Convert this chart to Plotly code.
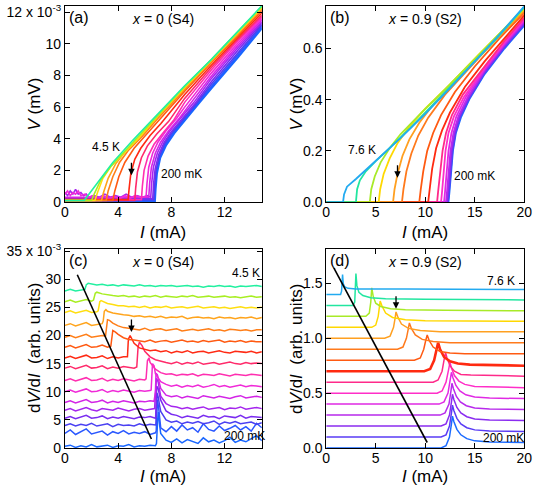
import plotly.graph_objects as go

# ---------------- data ----------------
# panel (a): x = 0 (S4), V (1e-3 mV) vs I (mA), 200 mK first ... 4.5 K last
a_curves = [
    [(0, 0.05), (6.75, 0.05), (6.8, 0.8), (6.9, 1.8), (7.15, 2.8), (7.6, 3.6), (8.2, 4.35), (9.1, 5.3), (10.1, 6.3), (11, 7.2), (13, 9.15), (14.8, 11.0)],
    [(0, 0.1), (6.72, 0.1), (6.78, 1.0), (6.88, 2.0), (7.12, 2.85), (7.55, 3.65), (8.15, 4.4), (9, 5.3), (10, 6.3), (11, 7.3), (13, 9.3), (14.8, 11.1)],
    [(0, 0.15), (6.68, 0.15), (6.74, 1.0), (6.85, 2.0), (7.1, 2.9), (7.5, 3.7), (8.1, 4.45), (8.9, 5.25), (9.9, 6.25), (11, 7.45), (13, 9.45), (14.8, 11.2)],
    [(0, 0.2), (6.6, 0.2), (6.66, 1.1), (6.78, 2.1), (7.05, 3.0), (7.45, 3.75), (8.0, 4.45), (8.8, 5.25), (9.8, 6.25), (11, 7.6), (13, 9.6), (14.8, 11.3)],
    [(0, 0.6), (0.2, 0.4), (0.4, 0.7), (0.6, 0.5), (0.8, 0.8), (1.0, 0.5), (1.2, 0.6), (1.4, 0.4), (1.6, 0.5), (1.8, 0.3),
     (2.2, 0.4), (2.6, 0.3), (3.0, 0.5), (3.4, 0.3), (3.8, 0.4), (4.2, 0.3), (4.6, 0.5), (5.0, 0.3), (5.4, 0.4), (5.8, 0.3),
     (6.2, 0.4), (6.45, 0.3), (6.52, 1.2), (6.65, 2.2), (6.95, 3.1), (7.35, 3.8), (7.9, 4.5), (8.7, 5.3), (9.7, 6.3), (11, 7.8), (13, 9.75), (14.8, 11.4)],
    [(0, 0.3), (6.3, 0.3), (6.37, 1.2), (6.5, 2.2), (6.8, 3.1), (7.2, 3.8), (7.8, 4.5), (8.6, 5.3), (9.5, 6.3), (11, 7.95), (13, 9.9), (14.8, 11.5)],
    [(0, 0.5), (0.2, 0.7), (0.4, 0.4), (0.6, 0.6), (0.8, 0.5), (1.0, 0.7), (1.2, 0.4), (1.5, 0.5), (1.8, 0.3), (2.1, 0.4),
     (2.5, 0.2), (2.9, 0.4), (3.3, 0.2), (3.7, 0.35), (4.1, 0.2), (4.5, 0.4), (4.9, 0.25), (5.3, 0.4), (5.7, 0.3), (6.1, 0.35),
     (6.17, 1.2), (6.3, 2.2), (6.6, 3.1), (7.0, 3.8), (7.6, 4.5), (8.4, 5.3), (9, 6.0), (11, 8.15), (13, 10.05), (14.8, 11.6)],
    [(0, 0.15), (5.75, 0.15), (5.82, 1.0), (5.95, 2.0), (6.25, 2.9), (6.7, 3.65), (7.4, 4.4), (8.2, 5.2), (9, 6.3), (11, 8.35), (13, 10.2), (14.8, 11.7)],
    [(0, 0.1), (5.25, 0.1), (5.32, 0.9), (5.45, 1.9), (5.75, 2.8), (6.2, 3.55), (6.9, 4.3), (7.8, 5.1), (9, 6.55), (11, 8.5), (13, 10.3), (14.8, 11.8)],
    [(0, 0.15), (4.75, 0.15), (4.82, 0.8), (4.95, 1.8), (5.25, 2.7), (5.7, 3.4), (6.4, 4.2), (7.2, 4.95), (9, 6.8), (11, 8.65), (13, 10.4), (14.8, 11.95)],
    [(0, 0.1), (3.6, 0.1), (3.75, 0.7), (4.05, 1.6), (4.5, 2.5), (5.2, 3.4), (6.1, 4.25), (7, 5.1), (9, 7.0), (11, 8.8), (13, 10.5), (14.8, 12.1)],
    [(0, 0.1), (3.1, 0.1), (3.25, 0.7), (3.6, 1.6), (4.1, 2.5), (4.8, 3.3), (5.8, 4.15), (7, 5.3), (9, 7.1), (11, 8.85), (13, 10.6), (14.8, 12.2)],
    [(0, 0.1), (2.75, 0.1), (2.9, 0.6), (3.25, 1.5), (3.8, 2.4), (4.6, 3.25), (5.6, 4.05), (7, 5.4), (9, 7.2), (11, 8.9), (13, 10.65), (14.8, 12.25)],
    [(0, 0.1), (2.25, 0.1), (2.45, 0.6), (2.85, 1.5), (3.5, 2.3), (4.5, 3.15), (5.5, 4.0), (7, 5.45), (9, 7.25), (11, 8.95), (13, 10.7), (14.8, 12.3)],
    [(0, 0.1), (2.0, 0.1), (2.25, 0.6), (2.7, 1.4), (3.5, 2.3), (4.5, 3.2), (5.5, 4.1), (7, 5.5), (9, 7.3), (11, 9.0), (13, 10.75), (14.8, 12.35)],
    [(0, 0.1), (1.45, 0.1), (1.9, 0.6), (2.6, 1.4), (3.6, 2.5), (5.1, 3.9), (7, 5.6), (9, 7.35), (11, 9.0), (13, 10.8), (14.8, 12.4)],
]

# panel (b): x = 0.9 (S2), V (mV) vs I (mA), 200 mK first ... 7.6 K last
b_curves = [
    [(0, 0), (12.35, 0), (12.45, 0.04), (12.6, 0.12), (12.8, 0.2), (13.1, 0.27), (13.6, 0.33), (14.5, 0.405), (16, 0.5), (18, 0.6), (20, 0.69)],
    [(0, 0), (12.3, 0), (12.4, 0.04), (12.55, 0.12), (12.75, 0.2), (13.05, 0.27), (13.55, 0.335), (14.5, 0.41), (16, 0.505), (18, 0.605), (20, 0.695)],
    [(0, 0), (12.2, 0), (12.3, 0.04), (12.45, 0.12), (12.65, 0.2), (12.95, 0.27), (13.45, 0.335), (14.4, 0.41), (16, 0.51), (18, 0.61), (20, 0.7)],
    [(0, 0), (12.1, 0), (12.2, 0.04), (12.35, 0.12), (12.55, 0.2), (12.85, 0.27), (13.35, 0.335), (14.3, 0.41), (16, 0.515), (18, 0.615), (20, 0.705)],
    [(0, 0), (11.9, 0), (12.0, 0.04), (12.15, 0.12), (12.35, 0.2), (12.65, 0.27), (13.15, 0.335), (14.1, 0.41), (16, 0.52), (18, 0.62), (20, 0.71)],
    [(0, 0), (11.6, 0), (11.7, 0.04), (11.85, 0.12), (12.05, 0.2), (12.35, 0.27), (12.9, 0.335), (13.9, 0.41), (16, 0.525), (18, 0.625), (20, 0.715)],
    [(0, 0), (11.2, 0), (11.3, 0.04), (11.5, 0.12), (11.75, 0.2), (12.1, 0.27), (12.7, 0.34), (13.8, 0.42), (16, 0.53), (18, 0.63), (20, 0.72)],
    [(0, 0), (10.3, 0), (10.45, 0.05), (10.7, 0.13), (11.1, 0.21), (11.7, 0.28), (12.5, 0.35), (14, 0.45), (16, 0.55), (18, 0.64), (20, 0.73)],
    [(0, 0), (9.4, 0), (9.55, 0.05), (9.8, 0.12), (10.2, 0.2), (10.8, 0.27), (11.6, 0.34), (13, 0.43), (15, 0.53), (17.5, 0.64), (20, 0.74)],
    [(0, 0), (7.65, 0), (7.8, 0.05), (8.1, 0.12), (8.6, 0.19), (9.3, 0.26), (10.3, 0.33), (12, 0.42), (14.5, 0.525), (17, 0.63), (20, 0.745)],
    [(0, 0), (6.75, 0), (6.9, 0.05), (7.2, 0.11), (7.7, 0.18), (8.4, 0.245), (9.4, 0.31), (11, 0.39), (13.5, 0.49), (16.5, 0.61), (20, 0.75)],
    [(0, 0), (5.3, 0), (5.45, 0.05), (5.8, 0.11), (6.4, 0.17), (7.2, 0.23), (8.3, 0.29), (10, 0.365), (12.5, 0.46), (15.5, 0.58), (20, 0.755)],
    [(0, 0), (4.4, 0), (4.55, 0.05), (4.9, 0.1), (5.5, 0.155), (6.4, 0.21), (7.5, 0.265), (9.5, 0.345), (12, 0.44), (15, 0.56), (20, 0.758)],
    [(0, 0), (3.0, 0), (3.12, 0.05), (3.4, 0.085), (4.0, 0.12), (5.0, 0.16), (6.5, 0.215), (8.5, 0.29), (11, 0.39), (14, 0.51), (17, 0.63), (20, 0.762)],
    [(0, 0), (1.7, 0), (1.8, 0.03), (2.1, 0.06), (3, 0.09), (5, 0.16), (7.5, 0.25), (10, 0.345), (12.5, 0.445), (15, 0.55), (17.5, 0.655), (20, 0.765)],
]

# panel (c): x = 0 (S4), dV/dI (offset, 1e-3) on a common current grid + step points
c_grid = [0.0, 0.4, 0.8, 1.2, 1.6, 2.0, 2.4, 2.8, 3.2, 3.6, 4.0, 4.4, 4.8, 5.2, 5.6, 6.0, 6.4, 6.8, 7.2,
          7.6, 8.0, 8.4, 8.8, 9.2, 9.6, 10.0, 10.4, 10.8, 11.2, 11.6, 12.0, 12.4, 12.8, 13.2, 13.6, 14.0, 14.4, 14.8]
c_vals = [
    [0.3, 0.5, 0.1, 0.4, 0.2, 0.6, 0.2, 0.3, 0.5, 0.1, 0.4, 0.3, 0.6, 0.2, 0.4, 0.3, 0.5, 0.4,
     2.6, 1.4, 1.0, 1.6, 0.9, 1.5, 1.2, 0.8, 1.8, 1.1, 1.4, 0.9, 1.3, 1.9, 1.0, 1.4, 1.1, 1.6, 2.2, 1.3],
    [2.6, 3.2, 2.4, 2.9, 3.4, 2.5, 2.8, 3.0, 2.3, 2.9, 2.6, 3.1, 2.5, 2.8, 2.6, 2.9, 2.4, 2.7,
     3.6, 2.9, 3.8, 3.0, 4.1, 3.2, 3.6, 2.8, 4.3, 3.3, 3.0, 3.9, 3.1, 3.5, 4.0, 3.2, 3.8, 3.0, 4.4, 3.6],
    [4.0, 4.3, 3.9, 4.2, 4.0, 4.4, 3.9, 4.1, 4.3, 3.8, 4.2, 4.0, 4.1, 3.9, 4.3, 4.0, 4.2, 4.1,
     6.5, 5.0, 4.6, 4.8, 4.3, 4.6, 4.4, 4.7, 4.3, 4.5, 4.8, 4.2, 4.6, 4.4, 4.7, 4.3, 4.5, 4.6, 4.2, 4.5],
    [5.3, 5.6, 5.2, 5.5, 5.8, 5.3, 5.4, 5.7, 5.2, 5.5, 5.3, 5.6, 5.4, 5.2, 5.5, 5.4, 5.6, 5.3,
     8.5, 6.6, 6.0, 5.8, 5.4, 5.7, 5.5, 5.3, 5.8, 5.5, 5.6, 5.2, 5.7, 5.5, 5.4, 5.8, 5.3, 5.6, 5.5, 5.4],
    [6.7, 7.0, 6.6, 6.9, 7.2, 6.8, 6.6, 7.0, 6.9, 6.7, 7.1, 6.8, 6.6, 6.9, 7.0, 6.7, 6.9, 9.5,
     9.2, 7.9, 7.4, 7.3, 7.0, 7.2, 6.9, 7.1, 7.3, 6.9, 7.0, 7.2, 6.8, 7.1, 7.0, 7.3, 6.9, 7.0, 7.2, 7.0],
    [8.1, 8.4, 8.0, 8.3, 8.6, 8.1, 8.2, 8.5, 8.0, 8.3, 8.1, 8.4, 8.2, 8.0, 8.3, 8.2, 8.4, 10.0,
     10.6, 9.4, 9.1, 9.3, 8.9, 9.2, 9.0, 8.8, 9.3, 9.1, 8.9, 9.2, 9.0, 8.8, 9.1, 9.3, 8.9, 9.0, 9.2, 9.0],
    [10.0, 10.3, 9.9, 10.2, 10.5, 10.0, 10.1, 10.4, 9.9, 10.2, 10.0, 10.3, 10.1, 9.9, 10.2, 10.1, 10.2, 13.2,
     11.8, 11.3, 11.0, 11.2, 10.8, 11.1, 10.9, 11.2, 10.8, 11.0, 11.3, 10.9, 11.1, 10.8, 11.0, 11.2, 10.9, 11.1, 11.0, 10.9],
    [12.0, 12.3, 11.9, 12.2, 12.5, 12.0, 12.1, 12.4, 11.9, 12.2, 12.0, 12.3, 12.1, 11.9, 12.2, 12.1, 15.2, 14.0,
     13.4, 13.1, 13.2, 12.9, 13.1, 13.0, 13.2, 12.8, 13.1, 13.0, 12.9, 13.2, 13.0, 12.8, 13.1, 13.0, 12.9, 13.1, 13.0, 12.9],
    [14.2, 14.5, 14.1, 14.4, 14.7, 14.2, 14.3, 14.6, 14.1, 14.4, 14.2, 14.5, 14.3, 14.2, 18.8, 17.2, 16.2, 15.7,
     15.4, 15.2, 15.0, 15.3, 14.9, 15.2, 15.0, 15.3, 14.9, 15.1, 15.2, 14.9, 15.1, 15.3, 15.0, 14.9, 15.2, 15.0, 15.1, 15.0],
    [16.0, 16.3, 15.9, 16.2, 16.5, 16.0, 16.1, 16.4, 15.9, 16.2, 16.0, 16.2, 19.5, 18.6, 17.8, 17.5, 17.3, 17.4,
     17.1, 17.3, 16.9, 17.2, 17.0, 17.3, 16.9, 17.1, 17.2, 16.9, 17.1, 17.3, 17.0, 16.9, 17.2, 17.1, 17.0, 17.2, 16.9, 17.1],
    [17.9, 18.2, 17.8, 18.1, 18.4, 17.9, 18.0, 18.3, 17.9, 20.9, 20.2, 19.6, 19.3, 19.2,
     19.1, 18.9, 19.2, 18.8, 19.0, 19.1, 18.8, 19.0, 19.2, 18.9, 19.0, 18.8, 19.1, 18.9, 19.0, 19.2, 18.8, 19.0, 18.9, 19.1, 18.8, 19.0, 18.9, 18.9],
    [19.7, 20.0, 19.6, 19.9, 20.2, 19.7, 19.8, 20.0, 22.8, 22.2, 21.7, 21.4, 21.3,
     21.2, 21.0, 21.3, 20.9, 21.1, 21.2, 20.9, 21.0, 21.2, 20.8, 21.0, 21.1, 20.9, 21.0, 21.2, 20.9, 21.0, 20.8, 21.1, 21.0, 20.9, 21.0, 20.8, 21.0, 21.0],
    [21.8, 22.1, 21.7, 22.0, 22.3, 21.8, 21.9, 22.1, 24.3, 24.0, 23.8, 23.7,
     23.6, 23.4, 23.5, 23.3, 23.4, 23.2, 23.4, 23.1, 23.3, 23.2, 23.4, 23.0, 23.2, 23.3, 23.1, 23.2, 23.0, 23.3, 23.1, 23.2, 23.0, 23.2, 23.1, 23.3, 23.0, 23.2],
    [24.1, 24.4, 24.0, 24.3, 24.5, 24.1, 24.2, 26.1, 25.7, 25.5, 25.3,
     25.3, 25.1, 25.2, 25.0, 25.2, 24.9, 25.1, 25.0, 25.2, 24.9, 25.0, 25.1, 24.9, 25.0, 25.2, 24.9, 25.0, 25.1, 24.9, 25.0, 24.8, 25.0, 25.1, 24.9, 25.0, 24.9, 25.0],
    [26.0, 26.3, 25.9, 26.2, 26.4, 26.1, 27.7, 27.4, 27.2, 27.1,
     27.0, 27.1, 26.9, 27.0, 26.8, 27.0, 26.9, 27.1, 26.8, 27.0, 26.9, 26.8, 27.0, 26.9, 27.1, 26.8, 26.9, 27.0, 26.8, 26.9, 27.0, 26.8, 26.9, 26.7, 26.9, 27.0, 26.8, 26.9],
    [27.9, 28.2, 27.9, 28.1, 29.0, 29.2, 29.0, 29.1,
     28.9, 29.0, 28.8, 29.0, 28.9, 28.8, 29.0, 28.8, 28.9, 28.7, 28.9, 28.8, 28.9, 28.7, 28.8, 28.9, 28.7, 28.8, 28.6, 28.8, 28.7, 28.9, 28.7, 28.8, 28.6, 28.8, 28.7, 28.8, 28.9, 28.7],
]
c_steps = [
    [(6.88, 0.8), (6.97, 5.0), (7.03, 6.4), (7.12, 4.0)],
    [(6.86, 3.0), (6.95, 8.6), (7.05, 7.0), (7.14, 4.8)],
    [(6.84, 4.3), (6.92, 9.8), (7.02, 9.0), (7.12, 7.5)],
    [(6.82, 5.6), (6.9, 11.0), (7.0, 10.6), (7.1, 9.6)],
    [(6.74, 7.0), (6.88, 12.4), (7.0, 11.8), (7.1, 10.5)],
    [(6.7, 8.3), (6.85, 13.3), (6.95, 13.0), (7.08, 11.8)],
    [(6.48, 10.3), (6.58, 15.0), (6.7, 14.6)],
    [(6.1, 12.3), (6.2, 15.5), (6.32, 16.0)],
    [(5.4, 14.4), (5.5, 18.0), (5.8, 18.2)],
    [(4.7, 16.2), (4.76, 19.0), (4.9, 20.0)],
    [(3.45, 18.1), (3.55, 20.2), (3.8, 20.6)],
    [(3.05, 19.9), (3.15, 22.0), (3.35, 22.7)],
    [(2.88, 22.6), (2.96, 24.3), (3.08, 24.6)],
    [(2.5, 24.4), (2.62, 26.0), (2.72, 26.2)],
    [(2.15, 26.3), (2.28, 27.5)],
    [(1.5, 28.2), (1.58, 28.8), (1.75, 29.3)],
]

# panel (d): x = 0.9 (S2), dV/dI (offset by 0.1), 200 mK first ... 7.6 K last
d_curves = [
    [(0, 0.0), (11.6, 0.0), (12.1, 0.02), (12.45, 0.1), (12.65, 0.22), (12.75, 0.29), (12.9, 0.24), (13.2, 0.17), (13.6, 0.12), (14.2, 0.085), (15, 0.065), (16.5, 0.055), (20, 0.05)],
    [(0, 0.1), (11.6, 0.1), (12.1, 0.12), (12.45, 0.2), (12.65, 0.32), (12.75, 0.39), (12.9, 0.34), (13.2, 0.27), (13.6, 0.22), (14.2, 0.185), (15, 0.165), (16.5, 0.155), (20, 0.15)],
    [(0, 0.2), (11.6, 0.2), (12.1, 0.22), (12.45, 0.3), (12.65, 0.42), (12.75, 0.49), (12.9, 0.44), (13.2, 0.37), (13.6, 0.32), (14.2, 0.285), (15, 0.265), (16.5, 0.255), (20, 0.25)],
    [(0, 0.3), (11.5, 0.3), (12.0, 0.32), (12.4, 0.4), (12.6, 0.52), (12.7, 0.59), (12.85, 0.54), (13.15, 0.47), (13.55, 0.42), (14.15, 0.385), (15, 0.365), (16.5, 0.355), (20, 0.35)],
    [(0, 0.4), (11.4, 0.4), (11.9, 0.42), (12.3, 0.5), (12.5, 0.61), (12.65, 0.69), (12.8, 0.64), (13.1, 0.57), (13.5, 0.52), (14.1, 0.485), (15, 0.465), (16.5, 0.455), (20, 0.45)],
    [(0, 0.5), (11.2, 0.5), (11.7, 0.52), (12.1, 0.6), (12.35, 0.71), (12.5, 0.78), (12.65, 0.73), (12.95, 0.66), (13.4, 0.61), (14, 0.58), (15, 0.56), (16.5, 0.555), (20, 0.55)],
    [(0, 0.6), (10.8, 0.6), (11.3, 0.62), (11.7, 0.7), (11.9, 0.8), (12.05, 0.87), (12.2, 0.82), (12.5, 0.75), (12.95, 0.7), (13.6, 0.67), (14.6, 0.665), (16.5, 0.66), (20, 0.655)],
    [(0, 0.7), (9.9, 0.7), (10.5, 0.72), (10.9, 0.8), (11.15, 0.9), (11.3, 0.96), (11.5, 0.9), (11.9, 0.83), (12.5, 0.79), (13.3, 0.77), (14.5, 0.76), (16.5, 0.755), (20, 0.75)],
    [(0, 0.8), (8.9, 0.8), (9.5, 0.82), (9.85, 0.9), (10.05, 0.98), (10.2, 1.03), (10.4, 0.98), (10.8, 0.92), (11.5, 0.88), (12.5, 0.865), (14, 0.86), (20, 0.86)],
    [(0, 0.9), (7.2, 0.9), (7.75, 0.92), (8.1, 1.0), (8.3, 1.09), (8.4, 1.14), (8.6, 1.09), (9.0, 1.03), (9.7, 0.99), (10.8, 0.97), (12.5, 0.96), (20, 0.96)],
    [(0, 1.0), (5.9, 1.0), (6.45, 1.02), (6.8, 1.1), (6.97, 1.19), (7.05, 1.24), (7.25, 1.19), (7.6, 1.13), (8.3, 1.09), (9.5, 1.07), (11.5, 1.06), (20, 1.06)],
    [(0, 1.1), (4.6, 1.1), (5.0, 1.12), (5.25, 1.2), (5.38, 1.29), (5.45, 1.34), (5.65, 1.29), (6.0, 1.23), (6.7, 1.19), (8, 1.17), (10, 1.16), (20, 1.155)],
    [(0, 1.2), (4.0, 1.2), (4.35, 1.23), (4.5, 1.33), (4.6, 1.46), (4.75, 1.38), (5.0, 1.32), (5.5, 1.29), (6.5, 1.27), (8, 1.26), (12, 1.255), (20, 1.25)],
    [(0, 1.3), (2.7, 1.3), (2.88, 1.33), (2.95, 1.45), (3.0, 1.59), (3.1, 1.48), (3.3, 1.42), (3.7, 1.39), (4.5, 1.37), (6, 1.36), (10, 1.355), (20, 1.35)],
    [(0, 1.4), (1.45, 1.4), (1.55, 1.43), (1.6, 1.52), (1.65, 1.58), (1.72, 1.5), (1.85, 1.47), (2.2, 1.455), (3, 1.45), (8, 1.45), (20, 1.445)],
]

# guide lines drawn through the transitions
c_guide_I = [0.93, 6.5]
c_guide_y = [30.8, 1.6]
d_guide_I = [0.78, 10.2]
d_guide_y = [1.64, 0.05]

# arrows (tip positions)
arrows = {'x': (5.0, 1.7), 'x2': (7.2, 0.095), 'x3': (5.0, 20.6), 'x4': (7.05, 1.27)}

colors_s4 = ['#1866ff', '#2a58ff', '#4a40f2', '#7a2cf0', '#a526ee', '#d324e6', '#f02ad8', '#ff2eb0',
             '#ff2a6a', '#ff2a14', '#ff5a12', '#ff7e18', '#ffa41c', '#ffde10', '#a8ee22', '#22f0a0']
colors_s2 = ['#1a6aff', '#5a3cf5', '#8a2cf0', '#b82aec', '#e02ae4', '#ff2ec8', '#ff2a8a', '#ff2a10',
             '#ff5a12', '#ff7a1c', '#ffa020', '#ffd800', '#a8ea28', '#22e6a0', '#22aaf0']

FONT = 'Arial, Liberation Sans, sans-serif'

fig = go.Figure()


def add_curve(points, color, xa, ya, width=1.6):
    fig.add_trace(go.Scatter(x=[p[0] for p in points], y=[p[1] for p in points], mode='lines',
                             line=dict(color=color, width=width), xaxis=xa, yaxis=ya,
                             showlegend=False, hoverinfo='skip'))


for i, pts in enumerate(a_curves):
    add_curve(pts, colors_s4[i], 'x', 'y', 2.4 if i == 0 else 1.6)

for i, pts in enumerate(b_curves):
    add_curve(pts, colors_s2[i], 'x2', 'y2', 1.8)

for i, vals in enumerate(c_vals):
    assert len(vals) == len(c_grid), (i, len(vals))
    pts = sorted(list(zip(c_grid, vals)) + c_steps[i])
    add_curve(pts, colors_s4[i], 'x3', 'y3', 1.5)

for i, pts in enumerate(d_curves):
    add_curve(pts, colors_s2[i], 'x4', 'y4', 2.6 if i == 7 else 1.5)

add_curve(list(zip(c_guide_I, c_guide_y)), 'black', 'x3', 'y3', 1.6)
add_curve(list(zip(d_guide_I, d_guide_y)), 'black', 'x4', 'y4', 1.6)

xa_dom = [0.120, 0.484]
xb_dom = [0.603, 0.969]
top_dom = [0.586, 0.988]
bot_dom = [0.082, 0.490]

axis_style = dict(showline=True, linecolor='black', linewidth=1, mirror='ticks', ticks='inside',
                  ticklen=5, tickcolor='black', showgrid=False, zeroline=False, automargin=False,
                  tickfont=dict(family=FONT, size=14, color='black'))
xstyle = dict(axis_style, ticklabelstandoff=-3)

fig.update_layout(
    width=541, height=488, margin=dict(l=0, r=0, t=0, b=0), autosize=False,
    plot_bgcolor='white', paper_bgcolor='white', font=dict(family=FONT, color='black'),
    xaxis=dict(domain=xa_dom, anchor='y', range=[0, 14.8], tickvals=[0, 4, 8, 12], **xstyle),
    yaxis=dict(domain=top_dom, anchor='x', range=[0, 12.4], tickvals=[0, 2, 4, 6, 8, 10, 12],
               ticktext=['0', '2', '4', '6', '8', '10', '12 x 10<sup>-3</sup>'], **axis_style),
    xaxis2=dict(domain=xb_dom, anchor='y2', range=[0, 20], tickvals=[0, 5, 10, 15, 20], **xstyle),
    yaxis2=dict(domain=top_dom, anchor='x2', range=[0, 0.767], tickvals=[0, 0.2, 0.4, 0.6],
                ticktext=['0.0', '0.2', '0.4', '0.6'], **axis_style),
    xaxis3=dict(domain=xa_dom, anchor='y3', range=[0, 14.8], tickvals=[0, 4, 8, 12], **xstyle),
    yaxis3=dict(domain=bot_dom, anchor='x3', range=[0, 35.4], tickvals=[0, 5, 10, 15, 20, 25, 30, 35],
                ticktext=['0', '5', '10', '15', '20', '25', '30', '35 x 10<sup>-3</sup>'], **axis_style),
    xaxis4=dict(domain=xb_dom, anchor='y4', range=[0, 20], tickvals=[0, 5, 10, 15, 20], **xstyle),
    yaxis4=dict(domain=bot_dom, anchor='x4', range=[0, 1.815], tickvals=[0, 0.5, 1.0, 1.5],
                ticktext=['0.0', '0.5', '1.0', '1.5'], **axis_style),
)

ann = []
title_font = dict(family=FONT, size=17, color='black')
for xc, yc, txt in [(0.064, sum(top_dom) / 2, '<i>V</i> (mV)'),
                    (0.548, sum(top_dom) / 2, '<i>V</i> (mV)'),
                    (0.064, sum(bot_dom) / 2, 'd<i>V</i>/d<i>I</i>  (arb. units)'),
                    (0.548, sum(bot_dom) / 2, 'd<i>V</i>/d<i>I</i>  (arb. units)')]:
    ann.append(dict(x=xc, y=yc, xref='paper', yref='paper', text=txt, showarrow=False,
                    xanchor='center', yanchor='middle', textangle=-90, font=title_font))
for xc, yc in [(sum(xa_dom) / 2, 0.524), (sum(xb_dom) / 2, 0.524),
               (sum(xa_dom) / 2, 0.024), (sum(xb_dom) / 2, 0.024)]:
    ann.append(dict(x=xc, y=yc, xref='paper', yref='paper', text='<i>I</i> (mA)', showarrow=False,
                    xanchor='center', yanchor='middle', font=title_font))

lab_font = dict(family=FONT, size=16, color='black')
txt_font = dict(family=FONT, size=14, color='black')
small_font = dict(family=FONT, size=12, color='black')
for ax, letter, sample in [('', '(a)', '<i>x</i> = 0 (S4)'), ('2', '(b)', '<i>x</i> = 0.9 (S2)'),
                           ('3', '(c)', '<i>x</i> = 0 (S4)'), ('4', '(d)', '<i>x</i> = 0.9 (S2)')]:
    ann.append(dict(x=0.01, y=0.995, xref=f'x{ax} domain', yref=f'y{ax} domain', text=letter,
                    showarrow=False, xanchor='left', yanchor='top', font=lab_font))
    ann.append(dict(x=0.5, y=0.985, xref=f'x{ax} domain', yref=f'y{ax} domain', text=sample,
                    showarrow=False, xanchor='center', yanchor='top', font=txt_font))

for ax, x, y, txt in [('', 3.1, 3.5, '4.5 K'), ('', 8.75, 1.8, '200 mK'),
                      ('2', 3.6, 0.205, '7.6 K'), ('2', 15.0, 0.10, '200 mK'),
                      ('3', 13.6, 31.1, '4.5 K'), ('3', 13.5, 2.1, '200 mK'),
                      ('4', 17.7, 1.52, '7.6 K'), ('4', 17.9, 0.09, '200 mK')]:
    ann.append(dict(x=x, y=y, xref=f'x{ax}', yref=f'y{ax}', text=txt, showarrow=False,
                    font=small_font))

for ax, (x, y) in arrows.items():
    yax = 'y' + ax[1:]
    ann.append(dict(x=x, y=y, xref=ax, yref=yax, ax=0, ay=-14, text='', showarrow=True,
                    arrowhead=2, arrowsize=1, arrowwidth=1.3, arrowcolor='black'))

fig.update_layout(annotations=ann)
fig.write_html("out.html", config={'displayModeBar': False},
               post_script="document.body.style.margin='0px';")
